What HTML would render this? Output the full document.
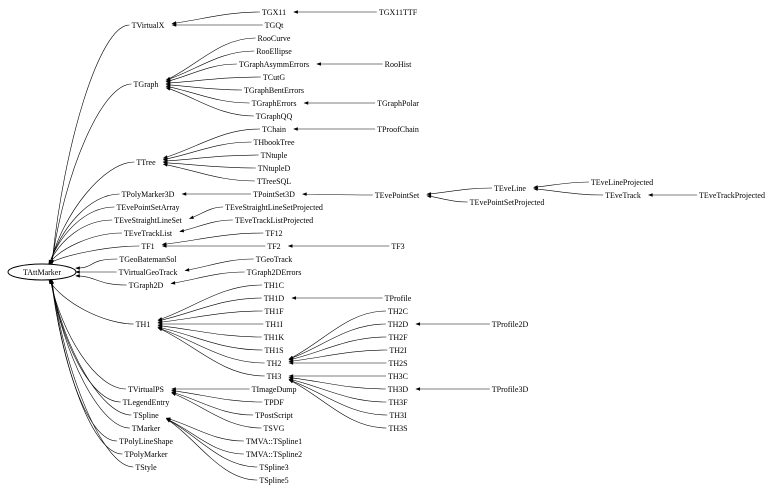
<!DOCTYPE html>
<html><head><meta charset="utf-8"><style>
html,body{margin:0;padding:0;background:#fff;}
svg{display:block;}
text{font-family:"Liberation Serif",serif;font-size:8px;fill:#000;text-anchor:middle;}
</style></head><body>
<svg id="s" width="779" height="494" viewBox="0 0 779 494" xmlns="http://www.w3.org/2000/svg">
<g id="edges" fill="none" stroke="#000" stroke-width="0.6"></g>
<ellipse cx="42" cy="272" rx="34" ry="8" fill="none" stroke="#000" stroke-width="1"/>
<g id="labels">
<text id="TAttMarker" x="42" y="275">TAttMarker</text>
<text id="TVirtualX" x="148" y="28">TVirtualX</text>
<text id="TGraph" x="146" y="87">TGraph</text>
<text id="TTree" x="146" y="165">TTree</text>
<text id="TPolyMarker3D" x="148" y="197">TPolyMarker3D</text>
<text id="TEvePointSetArray" x="148" y="210">TEvePointSetArray</text>
<text id="TEveStraightLineSet" x="148" y="223">TEveStraightLineSet</text>
<text id="TEveTrackList" x="148" y="236">TEveTrackList</text>
<text id="TF1" x="148" y="249">TF1</text>
<text id="TGeoBatemanSol" x="148" y="262">TGeoBatemanSol</text>
<text id="TVirtualGeoTrack" x="148" y="275">TVirtualGeoTrack</text>
<text id="TGraph2D" x="146" y="288">TGraph2D</text>
<text id="TH1" x="143" y="327">TH1</text>
<text id="TVirtualPS" x="146" y="392">TVirtualPS</text>
<text id="TLegendEntry" x="146" y="405">TLegendEntry</text>
<text id="TSpline" x="146" y="418">TSpline</text>
<text id="TMarker" x="146" y="431">TMarker</text>
<text id="TPolyLineShape" x="146" y="444">TPolyLineShape</text>
<text id="TPolyMarker" x="146" y="457">TPolyMarker</text>
<text id="TStyle" x="146" y="470">TStyle</text>

<text id="TGX11" x="274" y="15">TGX11</text>
<text id="TGQt" x="274" y="28">TGQt</text>
<text id="RooCurve" x="274" y="41">RooCurve</text>
<text id="RooEllipse" x="274" y="54">RooEllipse</text>
<text id="TGraphAsymmErrors" x="274" y="67">TGraphAsymmErrors</text>
<text id="TCutG" x="274" y="80">TCutG</text>
<text id="TGraphBentErrors" x="274" y="93">TGraphBentErrors</text>
<text id="TGraphErrors" x="274" y="106">TGraphErrors</text>
<text id="TGraphQQ" x="274" y="119">TGraphQQ</text>
<text id="TChain" x="274" y="132">TChain</text>
<text id="THbookTree" x="274" y="145">THbookTree</text>
<text id="TNtuple" x="274" y="158">TNtuple</text>
<text id="TNtupleD" x="274" y="171">TNtupleD</text>
<text id="TTreeSQL" x="274" y="184">TTreeSQL</text>
<text id="TPointSet3D" x="274" y="197">TPointSet3D</text>
<text id="TEveStraightLineSetProjected" x="274" y="210">TEveStraightLineSetProjected</text>
<text id="TEveTrackListProjected" x="274" y="223">TEveTrackListProjected</text>
<text id="TF12" x="274" y="236">TF12</text>
<text id="TF2" x="274" y="249">TF2</text>
<text id="TGeoTrack" x="274" y="262">TGeoTrack</text>
<text id="TGraph2DErrors" x="274" y="275">TGraph2DErrors</text>
<text id="TH1C" x="274" y="288">TH1C</text>
<text id="TH1D" x="274" y="301">TH1D</text>
<text id="TH1F" x="274" y="314">TH1F</text>
<text id="TH1I" x="274" y="327">TH1I</text>
<text id="TH1K" x="274" y="340">TH1K</text>
<text id="TH1S" x="274" y="353">TH1S</text>
<text id="TH2" x="274" y="366">TH2</text>
<text id="TH3" x="274" y="379">TH3</text>
<text id="TImageDump" x="274" y="392">TImageDump</text>
<text id="TPDF" x="274" y="405">TPDF</text>
<text id="TPostScript" x="274" y="418">TPostScript</text>
<text id="TSVG" x="274" y="431">TSVG</text>
<text id="TMVA::TSpline1" x="274" y="444">TMVA::TSpline1</text>
<text id="TMVA::TSpline2" x="274" y="457">TMVA::TSpline2</text>
<text id="TSpline3" x="274" y="470">TSpline3</text>
<text id="TSpline5" x="274" y="483">TSpline5</text>

<text id="TGX11TTF" x="398" y="15">TGX11TTF</text>
<text id="RooHist" x="398" y="67">RooHist</text>
<text id="TGraphPolar" x="398" y="106">TGraphPolar</text>
<text id="TProofChain" x="398" y="132">TProofChain</text>
<text id="TEvePointSet" x="397" y="198">TEvePointSet</text>
<text id="TF3" x="398" y="249">TF3</text>
<text id="TProfile" x="398" y="301">TProfile</text>
<text id="TH2C" x="398" y="314">TH2C</text>
<text id="TH2D" x="398" y="327">TH2D</text>
<text id="TH2F" x="398" y="340">TH2F</text>
<text id="TH2I" x="398" y="353">TH2I</text>
<text id="TH2S" x="398" y="366">TH2S</text>
<text id="TH3C" x="398" y="379">TH3C</text>
<text id="TH3D" x="398" y="392">TH3D</text>
<text id="TH3F" x="398" y="405">TH3F</text>
<text id="TH3I" x="398" y="418">TH3I</text>
<text id="TH3S" x="398" y="431">TH3S</text>

<text id="TEveLine" x="510" y="191">TEveLine</text>
<text id="TEvePointSetProjected" x="507" y="205">TEvePointSetProjected</text>
<text id="TProfile2D" x="510" y="327">TProfile2D</text>
<text id="TProfile3D" x="510" y="392">TProfile3D</text>
<text id="TEveLineProjected" x="622" y="185">TEveLineProjected</text>
<text id="TEveTrack" x="623" y="198">TEveTrack</text>
<text id="TEveTrackProjected" x="732" y="198">TEveTrackProjected</text>
</g>
</svg>
<script>
(function(){
var E=[
["TVirtualX","TAttMarker"],["TGraph","TAttMarker"],["TTree","TAttMarker"],["TPolyMarker3D","TAttMarker"],
["TEvePointSetArray","TAttMarker"],["TEveStraightLineSet","TAttMarker"],["TEveTrackList","TAttMarker"],["TF1","TAttMarker"],
["TGeoBatemanSol","TAttMarker"],["TVirtualGeoTrack","TAttMarker"],["TGraph2D","TAttMarker"],["TH1","TAttMarker"],
["TVirtualPS","TAttMarker"],["TLegendEntry","TAttMarker"],["TSpline","TAttMarker"],["TMarker","TAttMarker"],
["TPolyLineShape","TAttMarker"],["TPolyMarker","TAttMarker"],["TStyle","TAttMarker"],
["TGX11","TVirtualX"],["TGQt","TVirtualX"],
["RooCurve","TGraph"],["RooEllipse","TGraph"],["TGraphAsymmErrors","TGraph"],["TCutG","TGraph"],["TGraphBentErrors","TGraph"],["TGraphErrors","TGraph"],["TGraphQQ","TGraph"],
["TChain","TTree"],["THbookTree","TTree"],["TNtuple","TTree"],["TNtupleD","TTree"],["TTreeSQL","TTree"],
["TPointSet3D","TPolyMarker3D"],["TEveStraightLineSetProjected","TEveStraightLineSet"],["TEveTrackListProjected","TEveTrackList"],
["TF12","TF1"],["TF2","TF1"],["TGeoTrack","TVirtualGeoTrack"],["TGraph2DErrors","TGraph2D"],
["TH1C","TH1"],["TH1D","TH1"],["TH1F","TH1"],["TH1I","TH1"],["TH1K","TH1"],["TH1S","TH1"],["TH2","TH1"],["TH3","TH1"],
["TImageDump","TVirtualPS"],["TPDF","TVirtualPS"],["TPostScript","TVirtualPS"],["TSVG","TVirtualPS"],
["TMVA::TSpline1","TSpline"],["TMVA::TSpline2","TSpline"],["TSpline3","TSpline"],["TSpline5","TSpline"],
["TGX11TTF","TGX11"],["RooHist","TGraphAsymmErrors"],["TGraphPolar","TGraphErrors"],["TProofChain","TChain"],
["TEvePointSet","TPointSet3D"],["TF3","TF2"],["TProfile","TH1D"],
["TH2C","TH2"],["TH2D","TH2"],["TH2F","TH2"],["TH2I","TH2"],["TH2S","TH2"],
["TH3C","TH3"],["TH3D","TH3"],["TH3F","TH3"],["TH3I","TH3"],["TH3S","TH3"],
["TEveLine","TEvePointSet"],["TEvePointSetProjected","TEvePointSet"],
["TEveLineProjected","TEveLine"],["TEveTrack","TEveLine"],["TEveTrackProjected","TEveTrack"],
["TProfile2D","TH2D"],["TProfile3D","TH3D"]
];
var g=document.getElementById("edges"),ns="http://www.w3.org/2000/svg";
function box(id){var t=document.getElementById(id);var w=t.getComputedTextLength();var x=+t.getAttribute("x"),y=+t.getAttribute("y")-3;return{l:x-w/2-2,r:x+w/2+2,y:y};}
function add(d){var p=document.createElementNS(ns,"path");p.setAttribute("d",d);g.appendChild(p);}
function arrow(x,y,ang){var a=3.5,b=1.3,c=Math.cos(ang),s=Math.sin(ang);
var p=document.createElementNS(ns,"polygon");
var x1=x-a*c+b*s,y1=y-a*s-b*c,x2=x-a*c-b*s,y2=y-a*s+b*c;
p.setAttribute("points",x+","+y+" "+x1+","+y1+" "+x2+","+y2);p.setAttribute("fill","#000");g.appendChild(p);}
E.forEach(function(e){
var c=box(e[0]);var sx=c.l,sy=c.y,tx,ty,c1x,c1y,c2x,c2y;
if(e[1]=="TAttMarker"){
 var dy=sy-272;var off=Math.max(-1,Math.min(1,dy/200));
 tx=48+Math.abs(off)*4;ty=dy<0?264:280;
 if(Math.abs(dy)<20){tx=76;ty=272+dy*0.3;}
 c1x=sx-30;c1y=sy;c2x=tx+(sx-tx)*0.15;c2y=ty+(sy-ty)*0.5;
 if(Math.abs(dy)<20){c2x=tx+20;c2y=ty;}
}else{
 var p=box(e[1]);tx=p.r+6;
 var d=sy-p.y;ty=p.y+Math.max(-4,Math.min(4,d*0.12));
 var dx=sx-tx;
 c1x=sx-dx*0.4;c1y=sy;c2x=tx+dx*0.35;c2y=ty+(sy-ty)*0.35;
}
add("M"+sx+","+sy+" C"+c1x+","+c1y+" "+c2x+","+c2y+" "+tx+","+ty);
arrow(tx,ty,Math.atan2(ty-c2y,tx-c2x));
});
})();
</script>
</body></html>
